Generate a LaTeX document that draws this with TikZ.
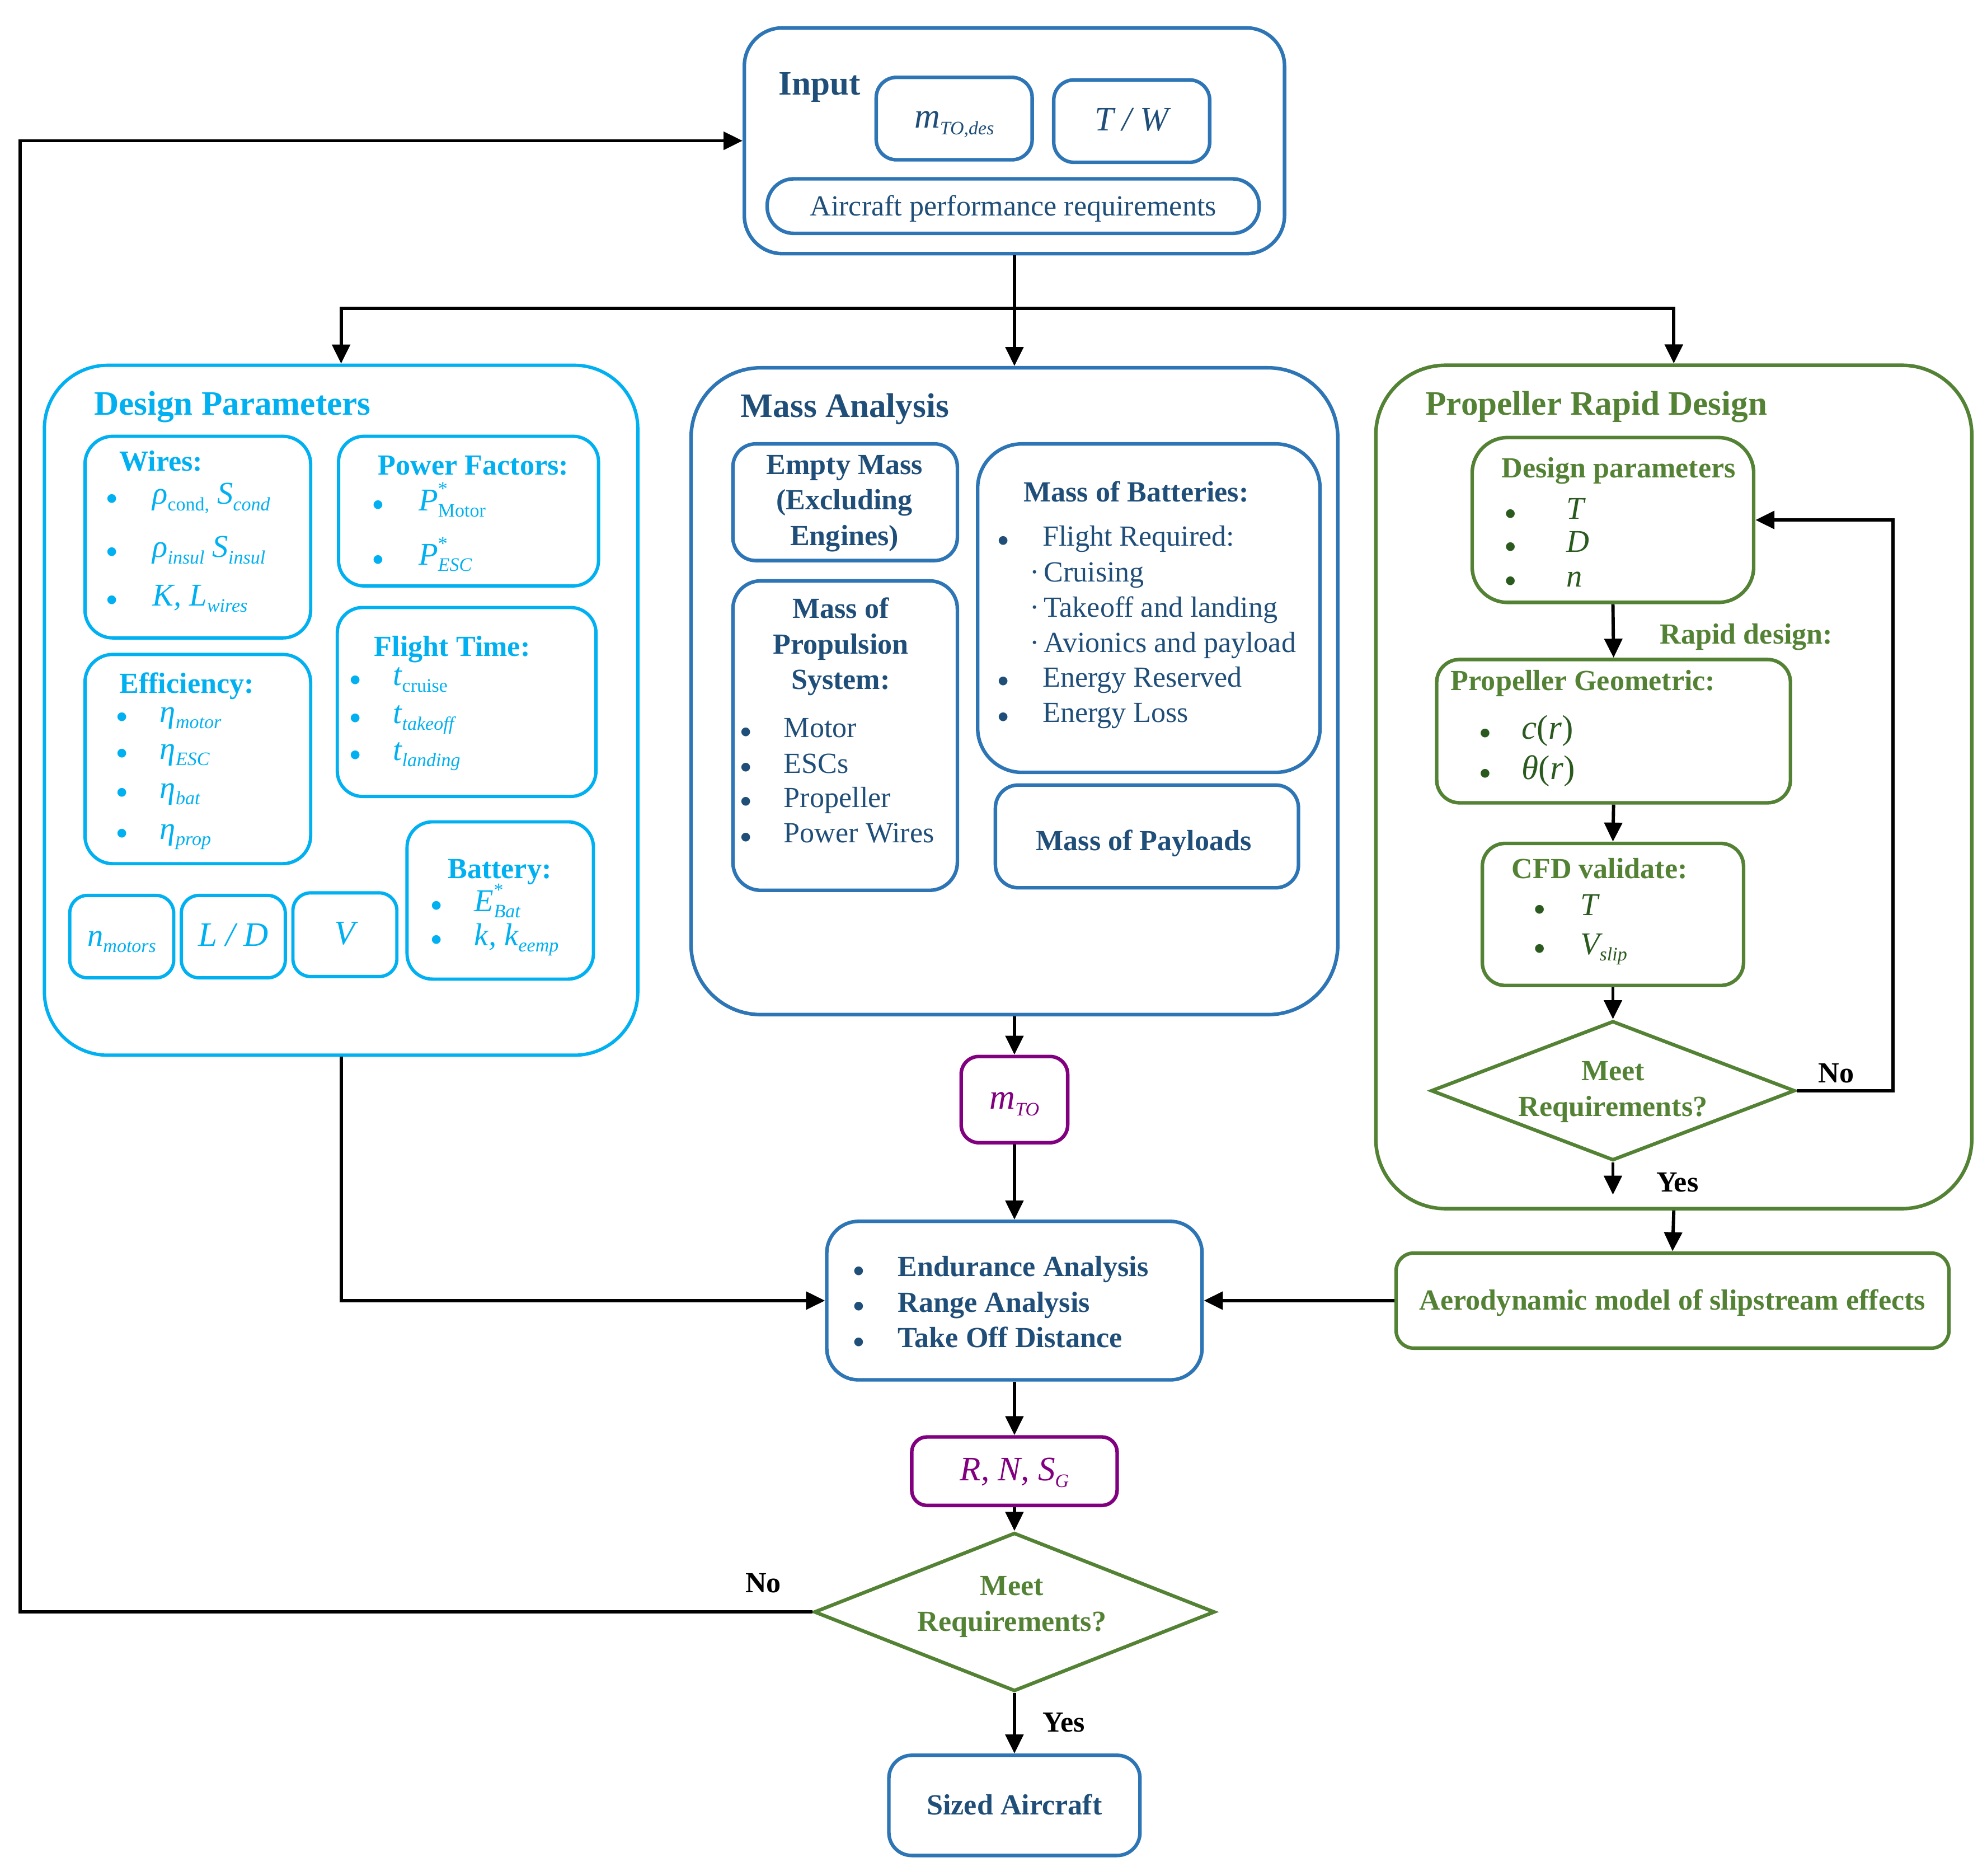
\documentclass[tikz,border=0pt]{standalone}
\usepackage{fontspec}
\setmainfont{Liberation Serif}
\newfontfamily\dejavu{DejaVu Sans}
\usetikzlibrary{arrows.meta,fit,shapes.geometric}
\definecolor{navy}{HTML}{1F4E79}
\definecolor{bord}{HTML}{2E75B6}
\definecolor{cyanc}{HTML}{00B0F0}
\definecolor{grn}{HTML}{548235}
\definecolor{dkgrn}{HTML}{2A5A1E}
\definecolor{purp}{HTML}{800080}
\newcommand\lo[1]{\raisebox{-5pt}{\fontsize{15}{15}\selectfont #1}}
\newcommand\hi[1]{\raisebox{12pt}{\fontsize{15}{15}\selectfont #1}}
\newcommand\lohi[2]{\rlap{\hi{#2}}\lo{#1}}
\newcommand\bul[2]{\makebox[#1pt][l]{\raisebox{2pt}{\dejavu\fontsize{9}{9}\selectfont ●}}#2}
\newcommand\mdot[1]{\makebox[11pt][l]{·}#1}
\begin{document}
\begin{tikzpicture}[x=1pt,y=-1pt,
  conn/.style={line width=2.6pt, draw=black},
  arr/.style={conn, -{Triangle[length=15pt,width=14pt]}},
  bbox/.style={draw=bord, line width=2.8pt, inner sep=0pt},
  cbox/.style={draw=cyanc, line width=2.6pt, inner sep=0pt},
  gbox/.style={draw=grn, line width=2.8pt, inner sep=0pt},
  pbox/.style={draw=purp, line width=2.8pt, inner sep=0pt},
  txt/.style={font=\fontsize{23}{28}\selectfont, inner sep=0pt, text height=17pt, text depth=2pt},
  btxt/.style={txt, font=\fontsize{23}{28}\selectfont\bfseries},
  mtxt/.style={font=\fontsize{23}{28}\selectfont\bfseries, inner sep=0pt, align=center},
  ttl/.style={font=\fontsize{27}{32}\selectfont\bfseries, inner sep=0pt, text height=20pt, text depth=2pt},
  mth/.style={font=\fontsize{25}{30}\selectfont, inner sep=0pt, text height=17pt, text depth=2pt},
]
\useasboundingbox (0,0) rectangle (1567,1479);

% ---------------- Input
\node[bbox, rounded corners=30pt, fit={(587,22)(1013,200)}] (input) {};
\node[ttl, text=navy, anchor=west] (inputT) at (614,66) {Input};
\node[bbox, rounded corners=16pt, fit={(691,61)(814,126)}] (mdes) {};
\node[mth, text=navy, font=\fontsize{28}{30}\selectfont] (mdesT) at (mdes.center) {\itshape m\lo{TO,des}};
\node[bbox, rounded corners=16pt, fit={(831,63)(954,128)}] (tw) {};
\node[mth, text=navy, font=\fontsize{27}{30}\selectfont\itshape] (twT) at (tw.center) {T / W};
\node[bbox, rounded corners=21pt, fit={(605,141)(993,184)}] (perf) {};
\node[txt, text=navy] (perfT) at (perf.center) {Aircraft performance requirements};

\coordinate (j) at (800,243);
\draw[conn] (input.south) -- (j);

% ---------------- Design Parameters
\node[cbox, rounded corners=50pt, fit={(35,288)(503,832)}] (dp) {};
\node[ttl, text=cyanc, anchor=west] (dpT) at (74,318) {Design Parameters};

\node[cbox, rounded corners=22pt, fit={(67,344)(245,503)}] (wires) {};
\node[btxt, text=cyanc, anchor=west] (wiresT) at (94,364) {Wires:};
\node[mth, text=cyanc, anchor=west] (w1) at (84,390) {\bul{36}{{\itshape ρ}\lo{cond,} {\itshape S}\lo{\itshape cond}}};
\node[mth, text=cyanc, anchor=west] (w2) at (84,432) {\bul{36}{{\itshape ρ}\lo{\itshape insul} {\itshape S}\lo{\itshape insul}}};
\node[mth, text=cyanc, anchor=west] (w3) at (84,470) {\bul{36}{{\itshape K, L}\lo{\itshape wires}}};

\node[cbox, rounded corners=20pt, fit={(267,344)(472,462)}] (pf) {};
\node[btxt, text=cyanc, anchor=west] (pfT) at (298,367) {Power Factors:};
\node[mth, text=cyanc, anchor=west] (pf1) at (294,395) {\bul{36}{{\itshape P}\lohi{Motor}{*}}};
\node[mth, text=cyanc, anchor=west] (pf2) at (294,438) {\bul{36}{{\itshape P}\lohi{\itshape ESC}{*}}};

\node[cbox, rounded corners=20pt, fit={(266,479)(470,628)}] (ft) {};
\node[btxt, text=cyanc, anchor=west] (ftT) at (295,510) {Flight Time:};
\node[mth, text=cyanc, anchor=west] (ft1) at (276,533) {\bul{34}{{\itshape t}\lo{cruise}}};
\node[mth, text=cyanc, anchor=west] (ft2) at (276,563) {\bul{34}{{\itshape t}\lo{\itshape takeoff}}};
\node[mth, text=cyanc, anchor=west] (ft3) at (276,592) {\bul{34}{{\itshape t}\lo{\itshape landing}}};

\node[cbox, rounded corners=22pt, fit={(67,516)(245,681)}] (eff) {};
\node[btxt, text=cyanc, anchor=west] (effT) at (94,539) {Efficiency:};
\node[mth, text=cyanc, anchor=west] (e1) at (92,562) {\bul{34}{{\itshape η}\lo{\itshape motor}}};
\node[mth, text=cyanc, anchor=west] (e2) at (92,591) {\bul{34}{{\itshape η}\lo{\itshape ESC}}};
\node[mth, text=cyanc, anchor=west] (e3) at (92,622) {\bul{34}{{\itshape η}\lo{\itshape bat}}};
\node[mth, text=cyanc, anchor=west] (e4) at (92,654) {\bul{34}{{\itshape η}\lo{\itshape prop}}};

\node[cbox, rounded corners=14pt, fit={(55,706)(137,771)}] (nm) {};
\node[mth, text=cyanc] (nmT) at (nm.center) {{\itshape n}\lo{\itshape motors}};
\node[cbox, rounded corners=14pt, fit={(143,706)(225,771)}] (ld) {};
\node[mth, text=cyanc, font=\fontsize{27}{30}\selectfont\itshape] (ldT) at (ld.center) {L / D};
\node[cbox, rounded corners=14pt, fit={(231,704)(313,770)}] (vv) {};
\node[mth, text=cyanc, font=\fontsize{27}{30}\selectfont\itshape] (vvT) at (vv.center) {V};

\node[cbox, rounded corners=20pt, fit={(321,648)(468,772)}] (bat) {};
\node[btxt, text=cyanc] (batT) at (394,685) {Battery:};
\node[mth, text=cyanc, anchor=west] (b1) at (340,711) {\bul{34}{{\itshape E}\lohi{\itshape Bat}{*}}};
\node[mth, text=cyanc, anchor=west] (b2) at (340,738) {\bul{34}{{\itshape k, k}\lo{\itshape eemp}}};

% ---------------- Mass Analysis
\node[bbox, rounded corners=55pt, fit={(545,290)(1055,800)}] (mass) {};
\node[ttl, text=navy, anchor=west] (massT) at (584,320) {Mass Analysis};

\node[bbox, rounded corners=18pt, fit={(578,350)(755,442)}] (empty) {};
\node[mtxt, text=navy] (emptyT) at (666,397) {Empty Mass\\(Excluding\\Engines)};

\node[bbox, rounded corners=22pt, fit={(578,458)(755,702)}] (prp) {};
\node[mtxt, text=navy] (prpT) at (663,510) {Mass of\\Propulsion\\System:};
\node[txt, text=navy, anchor=west] (p1) at (584,574) {\bul{34}{Motor}};
\node[txt, text=navy, anchor=west] (p2) at (584,602) {\bul{34}{ESCs}};
\node[txt, text=navy, anchor=west] (p3) at (584,629) {\bul{34}{Propeller}};
\node[txt, text=navy, anchor=west] (p4) at (584,657) {\bul{34}{Power Wires}};

\node[bbox, rounded corners=35pt, fit={(771,350)(1041,609)}] (batm) {};
\node[btxt, text=navy, anchor=west] (batmT) at (807,388) {Mass of Batteries:};
\node[txt, text=navy, anchor=west] (m1) at (787,423) {\bul{35}{Flight Required:}};
\node[txt, text=navy, anchor=west] (m2) at (812,451) {\mdot{Cruising}};
\node[txt, text=navy, anchor=west] (m3) at (812,479) {\mdot{Takeoff and landing}};
\node[txt, text=navy, anchor=west] (m4) at (812,507) {\mdot{Avionics and payload}};
\node[txt, text=navy, anchor=west] (m5) at (787,534) {\bul{35}{Energy Reserved}};
\node[txt, text=navy, anchor=west] (m6) at (787,562) {\bul{35}{Energy Loss}};

\node[bbox, rounded corners=18pt, fit={(785,619)(1024,700)}] (pay) {};
\node[btxt, text=navy] (payT) at (902,663) {Mass of Payloads};

% ---------------- Propeller Rapid Design
\node[gbox, rounded corners=55pt, fit={(1085,288)(1555,953)}] (prop) {};
\node[ttl, text=grn, anchor=west] (propT) at (1124,318) {Propeller Rapid Design};

\node[gbox, rounded corners=28pt, fit={(1161,345)(1383,475)}] (dpar) {};
\node[btxt, text=grn, anchor=west] (dparT) at (1184,369) {Design parameters};
\node[mth, text=dkgrn, anchor=west] (d1) at (1187,402) {\bul{48}{\itshape T}};
\node[mth, text=dkgrn, anchor=west] (d2) at (1187,428) {\bul{48}{\itshape D}};
\node[mth, text=dkgrn, anchor=west] (d3) at (1187,455) {\bul{48}{\itshape n}};

\node[btxt, text=grn, anchor=west] (rapid) at (1309,500) {Rapid design:};

\node[gbox, rounded corners=18pt, fit={(1133,520)(1412,633)}] (geo) {};
\node[btxt, text=grn, anchor=west] (geoT) at (1144,537) {Propeller Geometric:};
\node[mth, text=dkgrn, anchor=west, font=\fontsize{27}{30}\selectfont] (g1) at (1167,575) {\bul{33}{{\itshape c}({\itshape r})}};
\node[mth, text=dkgrn, anchor=west, font=\fontsize{27}{30}\selectfont] (g2) at (1167,607) {\bul{33}{{\itshape θ}({\itshape r})}};

\node[gbox, rounded corners=18pt, fit={(1169,665)(1375,777)}] (cfd) {};
\node[btxt, text=grn, anchor=west] (cfdT) at (1192,685) {CFD validate:};
\node[mth, text=dkgrn, anchor=west] (c1) at (1210,714) {\bul{36}{\itshape T}};
\node[mth, text=dkgrn, anchor=west] (c2) at (1210,745) {\bul{36}{{\itshape V}\lo{\itshape slip}}};

\node[draw=grn, line width=2.8pt, diamond, minimum width=287pt, minimum height=110pt, inner sep=0pt] (dia2) at (1272,860) {};
\node[mtxt, text=grn] (dia2T) at (1272,861) {Meet\\Requirements?};

\node[gbox, rounded corners=14pt, fit={(1101,988)(1537,1063)}] (aero) {};
\node[btxt, text=grn] (aeroT) at (aero.center) {Aerodynamic model of slipstream effects};

% ---------------- lower chain
\node[pbox, rounded corners=14pt, fit={(758,833)(842,901)}] (mto) {};
\node[mth, text=purp, font=\fontsize{28}{30}\selectfont] (mtoT) at (mto.center) {{\itshape m}\lo{\itshape TO}};

\node[bbox, rounded corners=25pt, fit={(652,963)(948,1088)}] (endur) {};
\node[btxt, text=navy, anchor=west] (en1) at (673,999) {\bul{35}{Endurance Analysis}};
\node[btxt, text=navy, anchor=west] (en2) at (673,1027) {\bul{35}{Range Analysis}};
\node[btxt, text=navy, anchor=west] (en3) at (673,1055) {\bul{35}{Take Off Distance}};

\node[pbox, rounded corners=12pt, fit={(719,1133)(881,1187)}] (rns) {};
\node[mth, text=purp, font=\fontsize{27}{30}\selectfont] (rnsT) at (rns.center) {{\itshape R, N, S}\lo{\itshape G}};

\node[draw=grn, line width=2.8pt, diamond, minimum width=316pt, minimum height=125pt, inner sep=0pt] (dia1) at (800,1271) {};
\node[mtxt, text=grn] (dia1T) at (798,1267) {Meet\\Requirements?};

\node[bbox, rounded corners=18pt, fit={(701,1384)(899,1463)}] (sized) {};
\node[btxt, text=navy] (sizedT) at (sized.center) {Sized Aircraft};

% ---------------- connectors
\draw[arr] (j) -| (dp.north);
\draw[arr] (j) -- (mass.north);
\draw[arr] (j) -| (prop.north);

\draw[arr] (mass.south) -- (mto.north);
\draw[arr] (mto.south) -- (endur.north);
\draw[arr] (dp.south) |- (endur.west);
\draw[arr] (aero.west) -- (endur.east);
\draw[arr] (endur.south) -- (rns.north);
\draw[arr] (rns.south) -- (dia1.north);
\draw[arr] (dia1.south) -- (sized.north);
\node[btxt, anchor=west] (yes1) at (822,1358) {Yes};
\coordinate (fb) at (16,1271);
\draw[arr] (dia1.west) -- (fb) |- (input.west);
\node[btxt] (no1) at (602,1248) {No};

\draw[arr] (dpar.south) -- (geo.north);
\draw[arr] (geo.south) -- (cfd.north);
\draw[arr] (cfd.south) -- (dia2.north);
\coordinate (nr) at (1493,860);
\draw[arr] (dia2.east) -- (nr) |- (dpar.east);
\node[btxt] (no2) at (1448,846) {No};
\coordinate (yend) at (1272,942);
\draw[arr] (dia2.south) -- (yend);
\node[btxt, anchor=west] (yes2) at (1306,932) {Yes};
\draw[arr] (prop.south) -- (aero.north);
\end{tikzpicture}
\end{document}
